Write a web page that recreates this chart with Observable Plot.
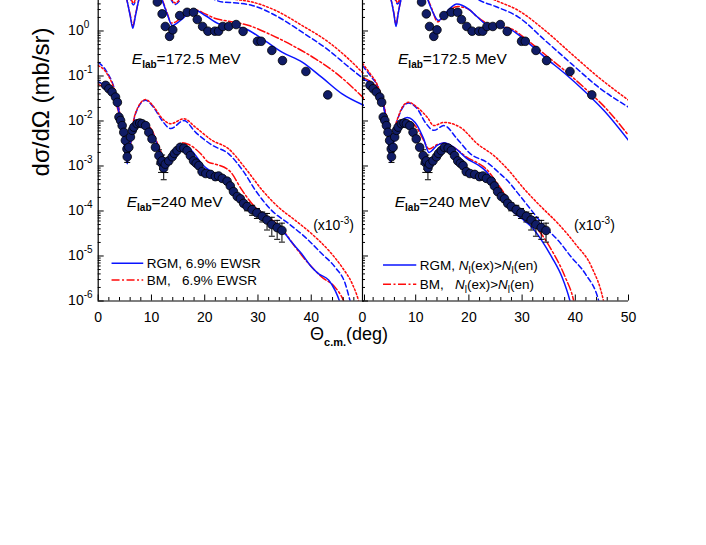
<!DOCTYPE html>
<html><head><meta charset="utf-8">
<script src="https://cdn.jsdelivr.net/npm/d3@7"></script>
<script src="https://cdn.jsdelivr.net/npm/@observablehq/plot@0.6"></script>
<style>
body{margin:0;background:#fff;}
#chart{position:relative;width:706px;height:545px;overflow:hidden;background:#fff;font-family:"Liberation Sans",Arial,sans-serif;}
#chart svg{position:absolute;top:0;}
</style></head><body><div id="chart"></div>
<script>
// ---------- data ----------
// 172.5 MeV measurements (angle in deg, cross section in mb/sr)
const angle172 = [11.1, 12.0, 12.6, 13.4, 14.0, 15.3, 16.7, 17.9, 18.6, 19.6, 20.6, 21.9, 22.6, 23.4, 24.5, 25.9, 27.2, 29.9, 30.6, 32.6, 34.6, 39.0, 43.1];
const xs172 = [4.4, 2.4, 1.26, 0.76, 1.06, 2.2, 2.6, 2.6, 1.8, 1.26, 0.99, 0.99, 0.99, 1.26, 1.26, 1.39, 0.98, 0.59, 0.59, 0.37, 0.22, 0.126, 0.038];
// 240 MeV measurements (x10^-3)
const angle240 = [1.4, 2.0, 2.6, 3.25, 3.6, 3.9, 4.2, 4.5, 4.8, 5.1, 5.4, 5.45, 5.75, 6.05, 6.4, 6.7, 7.3, 7.8, 8.25, 8.9, 9.5, 10.1, 10.75, 11.4, 11.8, 12.0, 12.3, 12.6, 13.25, 13.9, 14.3, 14.8, 15.4, 16.1, 16.7, 17.3, 17.9, 18.4, 18.9, 19.5, 20.2, 21.1, 22.0, 22.6, 23.3, 24.2, 24.8, 25.4, 26.1, 26.7, 27.3, 27.95, 28.9, 29.8, 30.8, 31.7, 32.6, 33.6, 34.5];
const xs240 = [0.062, 0.052, 0.044, 0.034, 0.026, 0.0122, 0.0103, 0.0079, 0.0056, 0.0037, 0.0024, 0.0016, 0.0026, 0.0044, 0.0062, 0.0073, 0.0087, 0.009, 0.0087, 0.0079, 0.0056, 0.0040, 0.0026, 0.0017, 0.0012, 0.0013, 0.0009, 0.0011, 0.0013, 0.0016, 0.0019, 0.0022, 0.0026, 0.0025, 0.0022, 0.0017, 0.0013, 0.00115, 0.00102, 0.00075, 0.00068, 0.00065, 0.00058, 0.0006, 0.00053, 0.00046, 0.00036, 0.00027, 0.00021, 0.000186, 0.000148, 0.000126, 0.000107, 0.000091, 0.000076, 0.000063, 0.00005, 0.0000427, 0.000037];
const relErr240 = [0.1, 0.1, 0.1, 0.1, 0.1, 0.1, 0.1, 0.1, 0.1, 0.1, 0.1, 0.25, 0.1, 0.1, 0.1, 0.1, 0.1, 0.1, 0.1, 0.1, 0.1, 0.1, 0.1, 0.35, 0.4, 0.35, 0.45, 0.35, 0.15, 0.1, 0.1, 0.1, 0.1, 0.1, 0.1, 0.1, 0.1, 0.1, 0.15, 0.15, 0.15, 0.15, 0.15, 0.15, 0.15, 0.15, 0.1, 0.1, 0.1, 0.15, 0.15, 0.2, 0.25, 0.25, 0.25, 0.4, 0.45, 0.45, 0.45];

// Left panel curves (6.9% EWSR)
const L172_RGM = [[0,40],[2.5,25],[4.5,10],[5.4,4.8],[6.0,2.2],[6.5,1.15],[7.0,2.2],[7.6,4.8],[8.5,10],[9.8,14],[11,8],[12.0,4.8],[13.0,2.3],[13.9,1.32],[14.8,1.5],[15.8,1.86],[17.0,2.5],[18.3,2.86],[20.1,2.21],[22.6,1.45],[25.8,1.26],[27.6,1.12],[30.8,0.67],[34.5,0.34],[38.3,0.204],[42.0,0.093],[45.8,0.040],[50,0.022]];
const L172_BM = [[0,35],[2.5,22],[4.5,9],[5.4,4.8],[6.0,2.3],[6.5,1.3],[7.0,2.3],[7.6,4.8],[8.5,10],[9.8,14],[11,8],[12.0,5],[13.0,2.4],[13.7,1.5],[14.6,1.6],[15.8,2.1],[17.0,2.7],[18.2,2.95],[20.1,2.4],[22.0,1.9],[24.5,1.65],[28.3,1.32],[32.0,0.87],[37.0,0.44],[40.8,0.24],[44.5,0.12],[50,0.031]];
const L172_RGMb = [[0,60],[3,30],[5.0,12],[5.9,6],[6.6,3.8],[7.3,6],[8.3,12],[9.8,25],[11.5,15],[13,7],[14.5,3.9],[15.8,5.5],[17.5,7],[19.5,6.5],[23.3,4.4],[26,4.2],[28.9,3.7],[33.3,2.21],[38.3,0.94],[43.3,0.37],[47.0,0.16],[50,0.083]];
const L172_BMb = [[0,70],[3,34],[5.0,13],[5.9,6.5],[6.6,4.2],[7.3,6.5],[8.3,13],[9.8,28],[11.5,17],[13,7.5],[14.5,4.2],[15.8,6],[17.5,8],[19.5,7.5],[23.3,5.5],[26,5.0],[28.9,4.4],[33.3,2.86],[38.3,1.32],[43.3,0.56],[47.0,0.24],[50,0.107]];
const L240_RGM = [[0,0.075],[1.5,0.058],[3,0.035],[4,0.014],[4.8,0.0045],[5.45,0.00112],[6.0,0.003],[7,0.0068],[8.5,0.0092],[10,0.006],[11.5,0.0022],[12.6,0.0011],[13.8,0.0016],[15.5,0.0027],[16.5,0.0027],[18,0.0019],[19.5,0.0011],[22,0.00065],[24,0.00045],[25.5,0.00028],[27,0.00016],[29,0.0001],[31,0.000062],[33,0.000045],[35.1,0.000031],[36.3,0.0000204],[38.2,0.0000112],[40.1,5.6e-6],[41.4,4.0e-6],[43.3,2.9e-6],[44.5,1.7e-6],[45.3,1.0e-6],[46,0.5e-6]];
const L240_BM = [[0,0.065],[1.5,0.052],[3,0.032],[4,0.013],[4.8,0.0048],[5.5,0.0014],[6.1,0.0032],[7,0.0068],[8.7,0.009],[10,0.0065],[11.5,0.0025],[12.6,0.0014],[13.8,0.0019],[15.8,0.0033],[17,0.003],[19.2,0.0019],[20.75,0.0012],[22,0.0011],[24.8,0.00075],[27,0.00029],[29.5,0.00012],[32,0.000072],[34.5,0.00004],[37,0.0000158],[39.5,6.8e-6],[42,3.4e-6],[44.5,2.0e-6],[46.1,1.0e-6],[47,0.5e-6]];
const L240_RGMb = [[0,0.2],[1.5,0.13],[3.3,0.04],[4.5,0.0072],[5.45,0.0013],[6.2,0.005],[7,0.0145],[8.9,0.029],[10.4,0.02],[12,0.0102],[13.6,0.0068],[16.1,0.0102],[18.3,0.0056],[21.4,0.0029],[24.5,0.00186],[27.3,0.00075],[29.5,0.00029],[32.6,0.000102],[35.8,0.000052],[38.9,0.000026],[42,0.0000112],[44.5,5.6e-6],[46.4,2.4e-6],[47.3,1.0e-6],[48,0.5e-6]];
const L240_BMb = [[0,0.17],[1.5,0.12],[3.3,0.038],[4.5,0.0075],[5.5,0.0014],[6.2,0.0052],[7,0.015],[8.9,0.03],[10.4,0.021],[12,0.0115],[13.6,0.0087],[16.1,0.0112],[18.3,0.0072],[21.4,0.0037],[24.5,0.0024],[27.6,0.0009],[30.8,0.00029],[33.9,0.00012],[37,0.000062],[40.1,0.000031],[43.3,0.0000132],[45.8,5.6e-6],[47.7,2.4e-6],[48.9,1.0e-6],[49.5,0.5e-6]];

// Right panel curves (N_l(ex) > N_l(en))
const R172_RGM = [[0,40],[2.5,25],[4.5,10],[5.4,4.8],[5.9,2.4],[6.3,1.26],[6.7,2.4],[7.2,4.8],[8,10],[10,15],[12,6],[13,3],[14.3,1.71],[15.5,2.4],[16.6,3.3],[17.7,3.98],[19.9,3.1],[21.5,2.1],[23.1,1.45],[25.6,1.26],[28.1,1.03],[30.6,0.62],[34.3,0.26],[38.1,0.112],[41.9,0.044],[45.6,0.016],[50,0.0037]];
const R172_BM = [[0,35],[2.5,22],[4.5,9],[5.4,4.8],[5.9,2.5],[6.3,1.4],[6.7,2.5],[7.2,4.8],[8,10],[10,14],[12,6],[13,3.2],[14.1,1.6],[15.5,2.3],[16.6,3.0],[17.9,3.5],[20,3.0],[21.5,2.1],[23.1,1.55],[25.6,1.3],[28.1,1.1],[30.6,0.68],[34.3,0.3],[38.1,0.13],[41.9,0.052],[45.6,0.02],[50,0.0048]];
const R172_RGMb = [[0,60],[3,30],[5.0,12],[5.9,6],[6.6,4.0],[7.3,6],[8.3,12],[9.8,25],[12.5,12],[14.3,8],[16.5,10],[19,8.5],[22,4.8],[25,3.5],[29.3,2.04],[34.3,0.62],[39.3,0.186],[44.4,0.056],[50,0.0204]];
const R172_BMb = [[0,70],[3,34],[5.0,13],[5.9,6.5],[6.6,4.3],[7.3,6.5],[8.3,13],[9.8,28],[12.5,14],[14.3,9.5],[16.5,12],[19,11],[22,7],[25,4.8],[29.3,2.86],[34.3,1.03],[39.3,0.31],[44.4,0.093],[50,0.029]];
const R240_RGM = [[0,0.087],[1.5,0.07],[2.75,0.052],[4,0.02],[4.7,0.006],[5.26,0.0012],[5.9,0.0035],[6.5,0.0068],[8.4,0.012],[10.3,0.0079],[11.5,0.004],[12.5,0.002],[14.1,0.0029],[15.3,0.0033],[17.2,0.0026],[19.5,0.0015],[22,0.001],[23.1,0.00079],[24.9,0.0004],[25.6,0.00029],[26.8,0.00017],[28.1,0.000102],[29.9,0.000068],[31.8,0.000044],[33.7,0.000022],[35.6,9.3e-6],[37.5,3.4e-6],[39.0,1.0e-6],[39.6,0.5e-6]];
const R240_BM = [[0,0.093],[1.5,0.075],[2.75,0.055],[4,0.02],[4.7,0.0065],[5.3,0.0016],[5.9,0.0035],[6.5,0.0062],[8.4,0.0102],[10.3,0.0068],[11.5,0.0037],[12.5,0.0024],[14.1,0.003],[15.3,0.0032],[17.2,0.0026],[19.5,0.0016],[22,0.0011],[23.1,0.00089],[25.6,0.00037],[28.1,0.000145],[30.6,0.000072],[33.1,0.000037],[35.6,0.0000132],[38.1,3.4e-6],[39.7,1.0e-6],[40.2,0.5e-6]];
const R240_RGMb = [[0,0.17],[1.5,0.1],[2.75,0.062],[4,0.022],[4.95,0.0068],[5.6,0.0048],[6.5,0.0102],[7.8,0.022],[8.7,0.025],[10.3,0.0186],[11.8,0.0093],[13.4,0.0062],[15.3,0.0079],[17.8,0.004],[20.3,0.00186],[23.4,0.0012],[26,0.00065],[27.2,0.00048],[29.3,0.00024],[31.8,0.000102],[34.3,0.000044],[36.8,0.000022],[39.3,9.3e-6],[41.9,4.0e-6],[44.4,1.0e-6],[45,0.5e-6]];
const R240_BMb = [[0,0.19],[1.5,0.11],[2.75,0.065],[4,0.023],[4.95,0.007],[5.6,0.0048],[6.5,0.0105],[7.8,0.023],[8.7,0.026],[10.3,0.02],[12.2,0.012],[13.4,0.0079],[15.3,0.0093],[18.4,0.0072],[21.6,0.0031],[24.7,0.0017],[27.2,0.00087],[30.6,0.00029],[33.7,0.00012],[36.8,0.000052],[40,0.0000186],[43.1,5.6e-6],[45.3,1.0e-6],[45.8,0.5e-6]];

// axis ticks and labels
const xMajor = [0, 10, 20, 30, 40, 50];
const xLabelsLeft = [0, 10, 20, 30, 40];
const xMinor = [2,4,6,8,12,14,16,18,22,24,26,28,32,34,36,38,42,44,46,48];
const yMajor = [1e-6, 1e-5, 1e-4, 1e-3, 1e-2, 1e-1, 1];
const yExpLabels = ["-6", "-5", "-4", "-3", "-2", "-1", "0"];
const yMinorMult = [2, 3, 4, 5, 6, 7, 8, 9];
const legendLeft = ["RGM, 6.9% EWSR", "BM,\u00a0\u00a0 6.9% EWSR"];

// ---------- styling ----------
const FONT = '"Liberation Sans", Arial, Helvetica, sans-serif';
const BLUE = "#0a14ff", RED = "#ff0a0a";
const styles = {
  RGM: {stroke: BLUE, dash: null, w: 1.5},
  BM: {stroke: RED, dash: "8,2.5,2,2.5", w: 1.5},
  RGMb: {stroke: BLUE, dash: "5,3", w: 1.5},
  BMb: {stroke: RED, dash: "1.8,2.2", w: 1.5}
};
const yMinor = [];
for (const p of yMajor) for (const m of yMinorMult) if (p * m < 4.8) yMinor.push(p * m);

const pts172 = angle172.map((a, i) => ({a, v: xs172[i]}));
const pts240 = angle240.map((a, i) => ({a, v: xs240[i], lo: xs240[i] * (1 - relErr240[i]), hi: xs240[i] * (1 + relErr240[i])}));

const capSymbol = {draw(ctx, size) { const w = Math.sqrt(size / Math.PI); ctx.moveTo(-w, 0); ctx.lineTo(w, 0); }};

function panel(curves, opts) {
  const lines = curves.map(([data, key]) => Plot.line(data, {
    x: d => d[0], y: d => d[1], stroke: styles[key].stroke, strokeWidth: styles[key].w,
    strokeDasharray: styles[key].dash, curve: "monotone-x", clip: true
  }));
  const marks = [
    ...lines,
    Plot.ruleX(pts240, {x: "a", y1: "lo", y2: "hi", stroke: "#000", strokeWidth: 1, clip: true}),
    Plot.dot(pts240, {x: "a", y: "lo", symbol: capSymbol, r: 3, stroke: "#000", strokeWidth: 1, clip: true}),
    Plot.dot(pts240, {x: "a", y: "hi", symbol: capSymbol, r: 3, stroke: "#000", strokeWidth: 1, clip: true}),
    Plot.dot(pts240, {x: "a", y: "v", r: 4.3, fill: "#101c66", stroke: "#000", strokeWidth: 0.8, clip: true}),
    Plot.dot(pts172, {x: "a", y: "v", r: 4.3, fill: "#101c66", stroke: "#000", strokeWidth: 0.8, clip: true}),
    Plot.ruleX([0], {stroke: "#000", strokeWidth: 1.2}),
    Plot.ruleY([1e-6], {stroke: "#000", strokeWidth: 1.2}),
    Plot.axisX({ticks: xMajor, tickSize: -6, fill: "none", stroke: "#000", label: null}),
    Plot.axisX({ticks: xMinor, tickSize: -3.5, fill: "none", stroke: "#000", label: null}),
    Plot.axisX({ticks: opts.xLabels, tickSize: 0, tickPadding: 11, fontSize: 14, fill: "#000", tickFormat: d => String(d), label: null}),
    Plot.axisY({ticks: yMajor, tickSize: -6, fill: "none", stroke: "#000", label: null}),
    Plot.axisY({ticks: yMinor, tickSize: -3, fill: "none", stroke: "#000", label: null})
  ];
  if (opts.yLabels) {
    marks.push(Plot.text(yMajor, {y: d => d, frameAnchor: "left", text: () => "10", textAnchor: "end", dx: -14.5, fontSize: 14, fill: "#000"}));
    marks.push(Plot.text(yMajor, {y: d => d, frameAnchor: "left", text: (d, i) => yExpLabels[i], textAnchor: "start", dx: -14.5, dy: -6, fontSize: 10, fill: "#000"}));
  }
  return Plot.plot({
    width: opts.width, height: 330,
    marginTop: 0, marginBottom: 29.5, marginLeft: opts.ml, marginRight: opts.mr,
    x: {domain: [0, 50], axis: null, label: null},
    y: {type: "log", domain: [1e-6, 4.76], axis: null, label: null},
    style: {background: "transparent", overflow: "visible", maxWidth: "none", fontFamily: FONT, fontSize: "14px", color: "#000"},
    marks
  });
}

const chart = document.getElementById("chart");
const left = panel([[L172_RGMb,"RGMb"],[L172_BMb,"BMb"],[L172_BM,"BM"],[L172_RGM,"RGM"],[L240_RGMb,"RGMb"],[L240_BMb,"BMb"],[L240_BM,"BM"],[L240_RGM,"RGM"]],
  {width: 364, ml: 97.7, mr: 0, xLabels: xLabelsLeft, yLabels: true});
const right = panel([[R172_RGMb,"RGMb"],[R172_BMb,"BMb"],[R172_BM,"BM"],[R172_RGM,"RGM"],[R240_RGMb,"RGMb"],[R240_BMb,"BMb"],[R240_BM,"BM"],[R240_RGM,"RGM"]],
  {width: 354, ml: 10, mr: 78, xLabels: xMajor, yLabels: false});
left.style.left = "0px";
right.style.left = "352px";
chart.appendChild(left);
chart.appendChild(right);

// rich-text annotations placed through each panel's scales
function rich(svg, x, y, parts, size, anchor) {
  const t = d3.select(svg).append("text").attr("x", x).attr("y", y)
    .attr("font-family", FONT).attr("font-size", size).attr("fill", "#000")
    .attr("text-anchor", anchor || "start");
  let shift = 0;
  for (const p of parts) {
    const ts = t.append("tspan").text(p.t);
    const want = p.sub ? p.sub : p.sup ? -p.sup : 0;
    if (want !== shift) { ts.attr("dy", want - shift); shift = want; }
    if (p.size) ts.attr("font-size", p.size);
    if (p.it) ts.attr("font-style", "italic");
    if (p.b) ts.attr("font-weight", "bold");
  }
  return t;
}
function legendLine(svg, x1, x2, y, key) {
  d3.select(svg).append("line").attr("x1", x1).attr("x2", x2).attr("y1", y).attr("y2", y)
    .attr("stroke", styles[key].stroke).attr("stroke-width", styles[key].w)
    .attr("stroke-dasharray", styles[key].dash);
}
function annotate(plot, pos, legendTexts) {
  const sx = v => plot.scale("x").apply(v), sy = v => plot.scale("y").apply(v);
  rich(plot, sx(pos.e172[0]), sy(pos.e172[1]), [{t: "E", it: true}, {t: "lab", sub: 4, size: 10, b: true}, {t: "=172.5 MeV"}], 15.5);
  rich(plot, sx(pos.e240[0]), sy(pos.e240[1]), [{t: "E", it: true}, {t: "lab", sub: 4, size: 10, b: true}, {t: "=240 MeV"}], 15.5);
  rich(plot, sx(pos.x10[0]), sy(pos.x10[1]), [{t: "(x10"}, {t: "-3", sup: 6, size: 10}, {t: ")"}], 14);
  legendLine(plot, sx(pos.leg[0]), sx(pos.leg[1]), sy(pos.rows[0]), "RGM");
  legendLine(plot, sx(pos.leg[0]), sx(pos.leg[1]), sy(pos.rows[1]), "BM");
  rich(plot, sx(pos.leg[2]), sy(pos.rows[0]) + 5, legendTexts[0], 13.5);
  rich(plot, sx(pos.leg[2]), sy(pos.rows[1]) + 5, legendTexts[1], 13.5);
}
annotate(left, {e172: [6.4, 0.18], e240: [5.45, 1.21e-4], x10: [40.45, 3.7e-5], leg: [2.6, 8.55, 9.2], rows: [6.7e-6, 2.86e-6]},
  [[{t: legendLeft[0]}], [{t: legendLeft[1]}]]);
const nl = [{t: "N", it: true}, {t: "l", sub: 4, size: 10}, {t: "(ex)>"}, {t: "N", it: true}, {t: "l", sub: 4, size: 10}, {t: "(en)"}];
annotate(right, {e172: [6.77, 0.18], e240: [6.15, 1.21e-4], x10: [39.85, 3.7e-5], leg: [3.95, 10.2, 10.85], rows: [6.15e-6, 2.29e-6]},
  [[{t: "RGM, "}, ...nl], [{t: "BM,\u00a0\u00a0 "}, ...nl]]);

// axis titles
const over = d3.select(chart).append("svg").attr("width", 706).attr("height", 545).style("left", "0px").style("pointer-events", "none");
over.append("text").attr("transform", "translate(49,102) rotate(-90)").attr("text-anchor", "middle")
  .attr("font-family", FONT).attr("font-size", 24).attr("fill", "#000").text("dσ/dΩ (mb/sr)");
rich(over.node(), 310, 340, [{t: "Θ"}, {t: "c.m.", sub: 6, size: 11, b: true}, {t: "(deg)"}], 18);
</script></body></html>
